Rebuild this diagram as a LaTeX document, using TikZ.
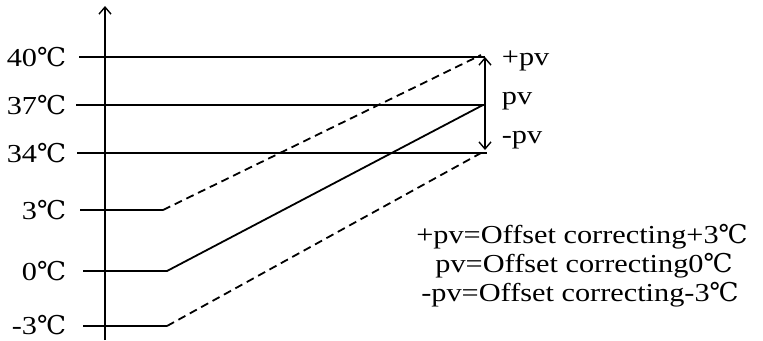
\documentclass[tikz,border=0pt]{standalone}
\usepackage{fontspec}
\setmainfont{Liberation Serif}[FakeStretch=1.17]
\newfontfamily\degfont{DejaVu Serif}
\newcommand{\dgc}{{\degfont ℃}}
\usetikzlibrary{arrows.meta}
\begin{document}
\begin{tikzpicture}[x=1bp,y=-1bp,
  line width=1.8bp,
  txt/.style={inner sep=0pt, font=\fontsize{26}{30}\selectfont},
  tick/.style={txt, anchor=base east},
  side/.style={txt, anchor=base west},
  legend/.style={txt, anchor=base},
  dashline/.style={dash pattern=on 8bp off 5bp},
  barb/.style={-{Straight Barb[length=7bp,width=12bp,line width=1.4bp]}},
  dbarb/.style={{Straight Barb[length=7bp,width=12bp,line width=1.4bp]}-{Straight Barb[length=7bp,width=12bp,line width=1.4bp]}}]
\useasboundingbox (0,0) rectangle (763,340);
% axis
\coordinate (ax0) at (105,340);
\coordinate (ax1) at (105,6);
\draw[barb] (ax0) -- (ax1);
% tick labels
\node[tick] (t40) at (67,66) {40\dgc};
\node[tick] (t37) at (67,114) {37\dgc};
\node[tick] (t34) at (67,162) {34\dgc};
\node[tick] (t3) at (67,219) {3\dgc};
\node[tick] (t0) at (67,280) {0\dgc};
\node[tick] (tm3) at (67,334) {-3\dgc};
% coordinates
\coordinate (a40) at (79,57);  \coordinate (b40) at (485,57);
\coordinate (a37) at (76,105); \coordinate (b37) at (485,105);
\coordinate (a34) at (77,153); \coordinate (b34) at (487,153);
\coordinate (a3) at (80,210);  \coordinate (k3) at (163,210);  \coordinate (e3) at (481,55);
\coordinate (a0) at (83,271);  \coordinate (k0) at (167,271);  \coordinate (e0) at (483,105);
\coordinate (am3) at (83,326); \coordinate (km3) at (167,326); \coordinate (em3) at (481,153);
\draw (a40) -- (b40);
\draw (a37) -- (b37);
\draw (a34) -- (b34);
\draw (a3) -- (k3);
\draw[dashline] (k3) -- (e3);
\draw (a0) -- (k0) -- (e0);
\draw (am3) -- (km3);
\draw[dashline] (km3) -- (em3);
% double arrow
\coordinate (v1) at (485,57);
\coordinate (v2) at (485,150);
\draw[dbarb] (v1) -- (v2);
% side labels
\node[side] (pp) at (501,65) {+pv};
\node[side] (p0) at (501,104) {pv};
\node[side] (pm) at (501,143) {-pv};
% legend
\node[legend] (l1) at (582,243) {+pv=Offset correcting+3\dgc};
\node[legend] (l2) at (584,272) {pv=Offset correcting0\dgc};
\node[legend] (l3) at (580,301) {-pv=Offset correcting-3\dgc};
\end{tikzpicture}
\end{document}
